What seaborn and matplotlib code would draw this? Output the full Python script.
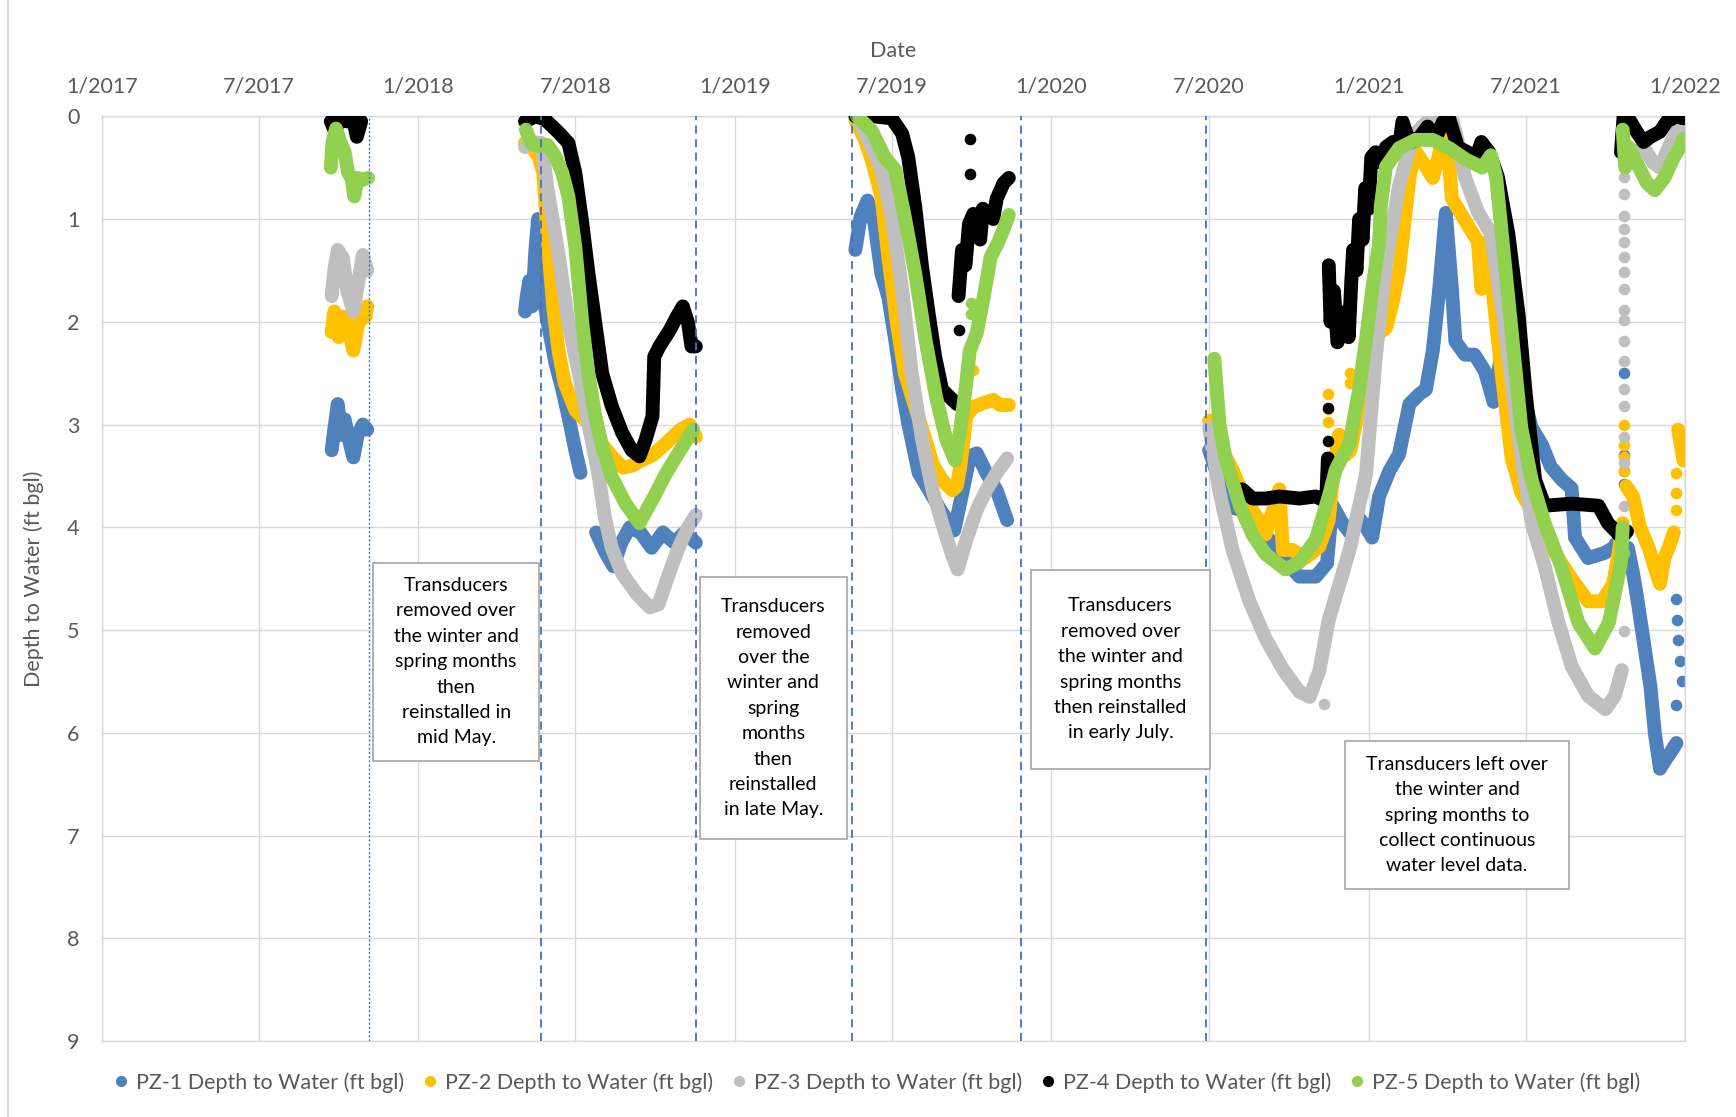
import pandas as pd
import matplotlib
matplotlib.use("Agg")
import matplotlib.pyplot as plt
from matplotlib.patches import Rectangle
from matplotlib.lines import Line2D
import seaborn as sns

# ---- data (date, depth to water in ft bgl) ----
PZ1_2017 = [("2017-09-23", 3.25), ("2017-09-26", 3.05), ("2017-09-30", 2.8), ("2017-10-04", 3.1),
            ("2017-10-08", 2.95), ("2017-10-13", 3.15), ("2017-10-18", 3.32), ("2017-10-23", 3.1),
            ("2017-10-29", 3.0), ("2017-11-03", 3.05)]
PZ1_2018A = [("2018-05-04", 1.9), ("2018-05-06", 1.75), ("2018-05-09", 1.6), ("2018-05-12", 1.85),
             ("2018-05-16", 1.3), ("2018-05-19", 1.0), ("2018-05-21", 1.4), ("2018-05-24", 1.7),
             ("2018-05-30", 2.0), ("2018-06-08", 2.4), ("2018-06-16", 2.66), ("2018-06-23", 2.92),
             ("2018-07-01", 3.25), ("2018-07-07", 3.47)]
PZ1_2018B = [("2018-07-25", 4.05), ("2018-08-05", 4.25), ("2018-08-14", 4.38), ("2018-08-23", 4.15),
             ("2018-09-02", 4.0), ("2018-09-14", 4.05), ("2018-09-27", 4.2), ("2018-10-10", 4.05),
             ("2018-10-23", 4.15), ("2018-11-04", 4.05), ("2018-11-17", 4.15)]
PZ1_2019 = [("2019-05-20", 1.3), ("2019-05-26", 0.98), ("2019-06-03", 0.82), ("2019-06-11", 1.04),
            ("2019-06-19", 1.53), ("2019-06-27", 1.76), ("2019-07-05", 2.18), ("2019-07-13", 2.66),
            ("2019-07-20", 2.99), ("2019-08-01", 3.47), ("2019-08-13", 3.64), ("2019-08-24", 3.8),
            ("2019-09-05", 3.96), ("2019-09-11", 4.03), ("2019-09-21", 3.64), ("2019-09-29", 3.31),
            ("2019-10-07", 3.28), ("2019-10-18", 3.47), ("2019-10-30", 3.64), ("2019-11-11", 3.93)]
PZ1_2020 = [("2020-07-01", 3.25), ("2020-07-13", 3.55), ("2020-07-28", 3.81), ("2020-08-16", 3.85),
            ("2020-09-04", 4.07), ("2020-09-24", 4.3), ("2020-10-13", 4.48), ("2020-11-01", 4.48),
            ("2020-11-14", 4.35), ("2020-11-20", 3.78), ("2020-12-01", 3.95), ("2020-12-10", 4.05),
            ("2020-12-20", 3.9), ("2020-12-29", 4.0), ("2021-01-05", 4.1), ("2021-01-13", 3.7),
            ("2021-01-25", 3.45), ("2021-02-05", 3.29), ("2021-02-17", 2.8), ("2021-03-01", 2.7),
            ("2021-03-08", 2.66), ("2021-03-16", 2.28), ("2021-03-23", 1.72), ("2021-03-31", 0.94),
            ("2021-04-07", 1.68), ("2021-04-11", 2.19), ("2021-04-22", 2.32), ("2021-05-03", 2.32),
            ("2021-05-15", 2.48), ("2021-05-25", 2.78), ("2021-06-05", 2.2), ("2021-06-15", 1.5),
            ("2021-06-22", 1.9), ("2021-07-01", 2.8), ("2021-07-08", 3.03), ("2021-07-20", 3.2),
            ("2021-07-30", 3.41), ("2021-08-12", 3.54), ("2021-08-23", 3.62), ("2021-08-27", 4.1),
            ("2021-09-11", 4.3), ("2021-09-30", 4.25), ("2021-10-10", 4.2), ("2021-10-18", 4.1)]
PZ1_2021 = [("2021-10-27", 4.2), ("2021-11-02", 4.45), ("2021-11-06", 4.65), ("2021-11-14", 5.1),
            ("2021-11-22", 5.55), ("2021-11-27", 6.0), ("2021-12-03", 6.35), ("2021-12-08", 6.28),
            ("2021-12-13", 6.22), ("2021-12-22", 6.1)]
PZ1_DOTS = [("2021-10-23", 2.5), ("2021-10-23", 3.3), ("2021-10-23", 3.45), ("2021-10-23", 3.58),
            ("2021-12-22", 4.7), ("2021-12-23", 4.9), ("2021-12-24", 5.1), ("2021-12-26", 5.3),
            ("2021-12-28", 5.5), ("2021-12-22", 5.73)]

PZ2_2017 = [("2017-09-23", 2.1), ("2017-09-26", 1.9), ("2017-10-01", 2.15), ("2017-10-06", 1.95),
            ("2017-10-12", 2.05), ("2017-10-18", 2.28), ("2017-10-24", 2.0), ("2017-11-01", 1.95),
            ("2017-11-03", 1.85)]
PZ2_2018 = [("2018-05-04", 0.26), ("2018-05-12", 0.3), ("2018-05-20", 0.4), ("2018-05-25", 0.55),
            ("2018-06-01", 1.4), ("2018-06-06", 1.9), ("2018-06-12", 2.3), ("2018-06-19", 2.6),
            ("2018-07-01", 2.86), ("2018-07-16", 2.99), ("2018-07-28", 3.15), ("2018-08-12", 3.31),
            ("2018-08-25", 3.42), ("2018-09-05", 3.4), ("2018-09-15", 3.35), ("2018-09-28", 3.3),
            ("2018-10-14", 3.18), ("2018-10-30", 3.05), ("2018-11-10", 3.0), ("2018-11-17", 3.12)]
PZ2_2019 = [("2019-05-20", 0.04), ("2019-05-31", 0.23), ("2019-06-08", 0.43), ("2019-06-19", 0.78),
            ("2019-06-27", 1.37), ("2019-07-07", 2.02), ("2019-07-16", 2.5), ("2019-07-28", 2.83),
            ("2019-08-09", 3.15), ("2019-08-17", 3.38), ("2019-08-28", 3.54), ("2019-09-09", 3.64),
            ("2019-09-14", 3.6), ("2019-09-18", 3.41), ("2019-09-25", 2.92), ("2019-10-03", 2.83),
            ("2019-10-15", 2.79), ("2019-10-26", 2.76), ("2019-11-03", 2.81), ("2019-11-13", 2.81)]
PZ2_2020 = [("2020-07-01", 2.96), ("2020-07-13", 3.2), ("2020-07-28", 3.44), ("2020-08-05", 3.6),
            ("2020-08-16", 3.78), ("2020-08-30", 3.97), ("2020-09-04", 4.07), ("2020-09-12", 3.85),
            ("2020-09-20", 3.63), ("2020-09-24", 4.22), ("2020-10-05", 4.22), ("2020-10-20", 4.3),
            ("2020-11-05", 4.19), ("2020-11-16", 3.93), ("2020-11-22", 3.4), ("2020-11-28", 3.1),
            ("2020-12-05", 3.3), ("2020-12-11", 3.25), ("2020-12-17", 3.0), ("2020-12-21", 2.84),
            ("2020-12-29", 2.43), ("2021-01-05", 2.17), ("2021-01-21", 2.06), ("2021-01-29", 1.8),
            ("2021-02-05", 1.5), ("2021-02-11", 1.05), ("2021-02-17", 0.6), ("2021-02-24", 0.34),
            ("2021-03-08", 0.49), ("2021-03-16", 0.6), ("2021-03-23", 0.38), ("2021-03-31", 0.04),
            ("2021-04-07", 0.8), ("2021-04-21", 1.0), ("2021-05-07", 1.22), ("2021-05-11", 1.68),
            ("2021-05-18", 1.22), ("2021-05-26", 1.85), ("2021-06-03", 2.48), ("2021-06-15", 3.33),
            ("2021-06-26", 3.66), ("2021-07-16", 3.96), ("2021-08-04", 4.25), ("2021-08-23", 4.5),
            ("2021-09-11", 4.72), ("2021-09-27", 4.72), ("2021-10-10", 4.55), ("2021-10-17", 4.21),
            ("2021-10-21", 3.96)]
PZ2_2021A = [("2021-10-25", 3.6), ("2021-11-02", 3.7), ("2021-11-10", 4.0), ("2021-11-20", 4.2),
             ("2021-11-29", 4.45), ("2021-12-03", 4.55), ("2021-12-08", 4.3), ("2021-12-13", 4.2),
             ("2021-12-19", 4.05)]
PZ2_2021B = [("2021-12-24", 3.05), ("2021-12-27", 3.2), ("2021-12-30", 3.35)]
PZ2_DOTS = [("2019-10-03", 2.47), ("2020-11-15", 2.7), ("2020-11-15", 2.85), ("2020-11-15", 2.98),
            ("2020-12-11", 2.5), ("2020-12-11", 2.6), ("2021-10-23", 3.0), ("2021-10-23", 3.2),
            ("2021-10-23", 3.32), ("2021-10-23", 3.45), ("2021-12-22", 3.47), ("2021-12-22", 3.67),
            ("2021-12-22", 3.83)]

PZ3_2017 = [("2017-09-23", 1.75), ("2017-09-26", 1.5), ("2017-09-30", 1.3), ("2017-10-06", 1.38),
            ("2017-10-11", 1.7), ("2017-10-18", 1.9), ("2017-10-24", 1.6), ("2017-10-29", 1.35),
            ("2017-11-03", 1.5)]
PZ3_2018 = [("2018-05-04", 0.3), ("2018-05-10", 0.25), ("2018-05-23", 0.26), ("2018-05-30", 0.71),
            ("2018-06-12", 1.36), ("2018-06-23", 2.01), ("2018-07-05", 2.5), ("2018-07-16", 2.99),
            ("2018-07-28", 3.5), ("2018-08-04", 3.9), ("2018-08-12", 4.2), ("2018-08-24", 4.45),
            ("2018-09-10", 4.65), ("2018-09-25", 4.78), ("2018-10-05", 4.75), ("2018-10-15", 4.5),
            ("2018-10-28", 4.2), ("2018-11-08", 4.0), ("2018-11-17", 3.88)]
PZ3_2019 = [("2019-05-22", 0.0), ("2019-06-06", 0.27), ("2019-06-19", 0.52), ("2019-07-01", 0.98),
            ("2019-07-13", 1.69), ("2019-07-24", 2.5), ("2019-08-05", 3.15), ("2019-08-17", 3.64),
            ("2019-08-28", 3.96), ("2019-09-09", 4.28), ("2019-09-15", 4.41), ("2019-09-25", 4.12),
            ("2019-10-07", 3.83), ("2019-10-18", 3.64), ("2019-10-30", 3.47), ("2019-11-11", 3.33)]
PZ3_2020 = [("2020-07-01", 3.03), ("2020-07-13", 3.66), ("2020-07-28", 4.22), ("2020-08-16", 4.71),
            ("2020-09-04", 5.08), ("2020-09-24", 5.38), ("2020-10-13", 5.6), ("2020-10-25", 5.65),
            ("2020-11-05", 5.4), ("2020-11-16", 4.9), ("2020-12-10", 4.22), ("2020-12-29", 3.48),
            ("2021-01-09", 2.36), ("2021-01-21", 1.43), ("2021-02-05", 0.68), ("2021-02-21", 0.19),
            ("2021-03-16", 0.0), ("2021-04-08", 0.05), ("2021-04-14", 0.25), ("2021-04-22", 0.59),
            ("2021-05-07", 0.93), ("2021-05-22", 1.14), ("2021-06-07", 2.06), ("2021-06-23", 3.12),
            ("2021-07-08", 3.96), ("2021-07-23", 4.38), ("2021-08-08", 4.93), ("2021-08-23", 5.35),
            ("2021-09-11", 5.64), ("2021-10-01", 5.77), ("2021-10-12", 5.64), ("2021-10-20", 5.39)]
PZ3_2021 = [("2021-10-24", 0.45), ("2021-11-02", 0.35), ("2021-11-14", 0.3), ("2021-11-25", 0.45),
            ("2021-12-03", 0.5), ("2021-12-13", 0.3), ("2021-12-22", 0.15), ("2021-12-30", 0.1)]
PZ3_DOT_DEPTHS = [0.59, 0.76, 0.97, 1.1, 1.22, 1.37, 1.52, 1.68, 1.89, 1.98, 2.19, 2.38,
                  2.65, 2.82, 3.12, 3.37, 3.79, 5.01]
PZ3_DOTS = [("2020-11-11", 5.72)] + [("2021-10-23", v) for v in PZ3_DOT_DEPTHS]

PZ4_2017 = [("2017-09-22", 0.05), ("2017-09-27", 0.15), ("2017-10-03", 0.0), ("2017-10-10", 0.05),
            ("2017-10-17", 0.0), ("2017-10-22", 0.2), ("2017-10-27", 0.05)]
PZ4_2018 = [("2018-05-04", 0.05), ("2018-05-16", 0.0), ("2018-05-27", 0.03), ("2018-06-12", 0.16),
            ("2018-06-23", 0.26), ("2018-07-01", 0.55), ("2018-07-09", 1.04), ("2018-07-16", 1.52),
            ("2018-07-24", 2.01), ("2018-08-01", 2.5), ("2018-08-12", 2.82), ("2018-08-24", 3.08),
            ("2018-09-04", 3.25), ("2018-09-13", 3.31), ("2018-09-20", 3.15), ("2018-09-28", 2.92),
            ("2018-09-30", 2.34), ("2018-10-06", 2.24), ("2018-10-18", 2.08), ("2018-10-26", 1.95),
            ("2018-11-02", 1.85), ("2018-11-08", 2.01), ("2018-11-12", 2.24), ("2018-11-17", 2.24)]
PZ4_2019A = [("2019-05-20", 0.0), ("2019-06-10", 0.0), ("2019-07-01", 0.02), ("2019-07-13", 0.17),
             ("2019-07-20", 0.4), ("2019-07-28", 0.88), ("2019-08-05", 1.47), ("2019-08-13", 1.95),
             ("2019-08-20", 2.34), ("2019-08-28", 2.66), ("2019-09-09", 2.76), ("2019-09-14", 2.8)]
PZ4_2019B = [("2019-09-16", 1.75), ("2019-09-20", 1.3), ("2019-09-24", 1.45), ("2019-09-28", 1.05),
             ("2019-10-03", 0.95), ("2019-10-07", 1.15), ("2019-10-11", 1.2), ("2019-10-14", 0.9),
             ("2019-10-20", 0.95), ("2019-10-26", 1.0), ("2019-10-30", 0.8), ("2019-11-07", 0.65),
             ("2019-11-13", 0.6)]
PZ4_2020A = [("2020-08-08", 3.63), ("2020-08-20", 3.72), ("2020-09-04", 3.72), ("2020-09-20", 3.7),
             ("2020-10-13", 3.72), ("2020-11-01", 3.7), ("2020-11-13", 3.75), ("2020-11-15", 3.33)]
PZ4_2020B = [("2020-11-16", 1.45), ("2020-11-18", 2.0), ("2020-11-22", 1.7), ("2020-11-26", 2.2),
             ("2020-12-02", 2.1), ("2020-12-06", 1.9), ("2020-12-09", 2.15), ("2020-12-12", 1.6),
             ("2020-12-14", 1.3), ("2020-12-18", 1.5), ("2020-12-21", 1.0), ("2020-12-25", 1.2),
             ("2020-12-28", 0.7), ("2021-01-01", 0.9), ("2021-01-04", 0.4), ("2021-01-09", 0.35),
             ("2021-01-15", 0.45), ("2021-01-21", 0.3), ("2021-01-29", 0.25), ("2021-02-05", 0.3),
             ("2021-02-09", 0.05), ("2021-02-15", 0.2), ("2021-02-20", 0.25), ("2021-03-01", 0.2),
             ("2021-03-10", 0.1), ("2021-03-20", 0.2), ("2021-03-28", 0.05), ("2021-04-03", 0.0),
             ("2021-04-14", 0.3), ("2021-04-25", 0.35), ("2021-05-05", 0.4), ("2021-05-11", 0.25),
             ("2021-05-20", 0.35), ("2021-05-30", 0.59), ("2021-06-11", 1.14), ("2021-06-23", 1.94),
             ("2021-07-01", 2.69), ("2021-07-12", 3.54), ("2021-07-23", 3.79), ("2021-08-23", 3.77),
             ("2021-09-23", 3.79), ("2021-10-04", 3.96), ("2021-10-20", 4.1), ("2021-10-26", 4.04)]
PZ4_2021 = [("2021-10-19", 0.35), ("2021-10-22", 0.0), ("2021-10-30", 0.05), ("2021-11-06", 0.15),
            ("2021-11-14", 0.25), ("2021-11-22", 0.2), ("2021-12-03", 0.15), ("2021-12-11", 0.05),
            ("2021-12-22", 0.0), ("2021-12-30", 0.02)]
PZ4_DOTS = [("2019-09-16", 2.08), ("2019-09-29", 0.56), ("2019-09-29", 0.22),
            ("2020-11-15", 3.16), ("2020-11-15", 2.84)]

PZ5_2017 = [("2017-09-22", 0.5), ("2017-09-24", 0.25), ("2017-09-28", 0.12), ("2017-10-03", 0.25),
            ("2017-10-08", 0.35), ("2017-10-12", 0.55), ("2017-10-16", 0.6), ("2017-10-19", 0.78),
            ("2017-10-23", 0.6), ("2017-10-28", 0.62), ("2017-11-04", 0.6)]
PZ5_2018 = [("2018-05-05", 0.13), ("2018-05-11", 0.26), ("2018-05-19", 0.29), ("2018-05-30", 0.28),
            ("2018-06-08", 0.39), ("2018-06-16", 0.55), ("2018-06-23", 0.78), ("2018-07-01", 1.27),
            ("2018-07-09", 2.01), ("2018-07-16", 2.5), ("2018-07-24", 2.92), ("2018-08-01", 3.21),
            ("2018-08-12", 3.51), ("2018-08-28", 3.77), ("2018-09-13", 3.96), ("2018-09-28", 3.73),
            ("2018-10-14", 3.47), ("2018-10-30", 3.25), ("2018-11-14", 3.05)]
PZ5_2019 = [("2019-05-22", 0.0), ("2019-06-08", 0.14), ("2019-06-23", 0.4), ("2019-07-05", 0.52),
            ("2019-07-16", 0.98), ("2019-07-28", 1.53), ("2019-08-09", 2.18), ("2019-08-21", 2.73),
            ("2019-09-02", 3.15), ("2019-09-12", 3.35), ("2019-09-18", 3.05), ("2019-09-24", 2.66),
            ("2019-09-29", 2.28), ("2019-10-07", 2.11), ("2019-10-15", 1.76), ("2019-10-23", 1.37),
            ("2019-10-31", 1.24), ("2019-11-07", 1.1), ("2019-11-13", 0.96)]
PZ5_2020 = [("2020-07-07", 2.36), ("2020-07-13", 3.0), ("2020-07-20", 3.33), ("2020-08-05", 3.78),
            ("2020-08-20", 4.07), ("2020-09-04", 4.26), ("2020-09-27", 4.41), ("2020-10-13", 4.34),
            ("2020-11-01", 4.12), ("2020-11-16", 3.7), ("2020-11-24", 3.44), ("2020-12-10", 3.18),
            ("2020-12-21", 2.66), ("2020-12-29", 2.17), ("2021-01-05", 1.69), ("2021-01-13", 1.24),
            ("2021-01-15", 0.87), ("2021-01-21", 0.49), ("2021-02-05", 0.31), ("2021-02-24", 0.23),
            ("2021-03-16", 0.23), ("2021-04-04", 0.31), ("2021-04-23", 0.42), ("2021-05-12", 0.5),
            ("2021-05-22", 0.38), ("2021-05-28", 0.59), ("2021-06-07", 1.43), ("2021-06-15", 2.1),
            ("2021-06-26", 3.03), ("2021-07-08", 3.54), ("2021-07-23", 3.96), ("2021-08-11", 4.38),
            ("2021-08-31", 4.93), ("2021-09-19", 5.18), ("2021-10-05", 4.93), ("2021-10-19", 4.34),
            ("2021-10-21", 4.0)]
PZ5_2021 = [("2021-10-21", 0.13), ("2021-10-24", 0.5), ("2021-10-28", 0.3), ("2021-11-06", 0.45),
            ("2021-11-18", 0.65), ("2021-11-27", 0.72), ("2021-12-08", 0.6), ("2021-12-19", 0.4),
            ("2021-12-26", 0.3), ("2021-12-30", 0.22)]
PZ5_DOTS = [("2019-09-30", 1.82), ("2019-09-30", 1.92), ("2021-10-22", 4.25)]

SERIES_NAMES = ["PZ-1 Depth to Water (ft bgl)", "PZ-2 Depth to Water (ft bgl)",
                "PZ-3 Depth to Water (ft bgl)", "PZ-4 Depth to Water (ft bgl)",
                "PZ-5 Depth to Water (ft bgl)"]
COLORS = ["#4F81BD", "#FFC000", "#BFBFBF", "#000000", "#92D050"]
SEGMENTS = [
    [PZ1_2017, PZ1_2018A, PZ1_2018B, PZ1_2019, PZ1_2020, PZ1_2021],
    [PZ2_2017, PZ2_2018, PZ2_2019, PZ2_2020, PZ2_2021A, PZ2_2021B],
    [PZ3_2017, PZ3_2018, PZ3_2019, PZ3_2020, PZ3_2021],
    [PZ4_2017, PZ4_2018, PZ4_2019A, PZ4_2019B, PZ4_2020A, PZ4_2020B, PZ4_2021],
    [PZ5_2017, PZ5_2018, PZ5_2019, PZ5_2020, PZ5_2021],
]
DOTS = [PZ1_DOTS, PZ2_DOTS, PZ3_DOTS, PZ4_DOTS, PZ5_DOTS]

TICK_DATES = ["2017-01-01", "2017-07-01", "2018-01-01", "2018-07-01", "2019-01-01", "2019-07-01",
              "2020-01-01", "2020-07-01", "2021-01-01", "2021-07-01", "2022-01-01"]
TICK_LABELS = ["1/2017", "7/2017", "1/2018", "7/2018", "1/2019", "7/2019",
               "1/2020", "7/2020", "1/2021", "7/2021", "1/2022"]

# transducer removal / reinstall markers
DOTTED_LINE = "2017-11-05"
DASHED_LINES = ["2018-05-23", "2018-11-17", "2019-05-16", "2019-11-27", "2020-06-27"]

NOTES = [
    "Transducers\nremoved over\nthe winter and\nspring months\nthen\nreinstalled in\nmid May.",
    "Transducers\nremoved\nover the\nwinter and\nspring\nmonths\nthen\nreinstalled\nin late May.",
    "Transducers\nremoved over\nthe winter and\nspring months\nthen reinstalled\nin early July.",
    "Transducers left over\nthe winter and\nspring months to\ncollect continuous\nwater level data.",
]
# note boxes in axes fraction: (x0, y0, x1, y1)
NOTE_BOXES = [(0.1713, 0.3030, 0.2762, 0.5174),
              (0.3776, 0.2180, 0.4706, 0.5018),
              (0.5867, 0.2946, 0.7000, 0.5090),
              (0.7853, 0.1641, 0.9266, 0.3246)]


def to_frame(segments):
    rows = []
    for i, seg in enumerate(segments):
        for d, v in seg:
            rows.append((pd.Timestamp(d), v, i))
    return pd.DataFrame(rows, columns=["date", "depth", "seg"])


sns.set_style("white")
plt.rcParams["font.family"] = ["Lato", "DejaVu Sans"]

TXT = "#595959"
GRID = "#D9D9D9"
BLUE = "#4472C4"

fig = plt.figure(figsize=(17.36, 11.17), dpi=100)
ax = fig.add_axes([0.0587, 0.0680, 0.9120, 0.8279])

for k in range(5):
    df = to_frame(SEGMENTS[k])
    sns.lineplot(data=df, x="date", y="depth", units="seg", estimator=None, sort=False,
                 color=COLORS[k], linewidth=10, solid_capstyle="round", solid_joinstyle="round",
                 ax=ax, legend=False, zorder=2 + k)
    dots = to_frame([DOTS[k]])
    sns.scatterplot(data=dots, x="date", y="depth", color=COLORS[k], s=70, linewidth=0,
                    ax=ax, legend=False, zorder=2 + k)

ax.axvline(pd.Timestamp(DOTTED_LINE), color=BLUE, lw=1.0, ls=(0, (1.5, 1.5)), zorder=10)
for d in DASHED_LINES:
    ax.axvline(pd.Timestamp(d), color=BLUE, lw=1.3, ls=(0, (4.5, 3)), zorder=10)

for (x0, y0, x1, y1), note in zip(NOTE_BOXES, NOTES):
    ax.add_patch(Rectangle((x0, y0), x1 - x0, y1 - y0, transform=ax.transAxes,
                           facecolor="white", edgecolor="#A6A6A6", lw=1.2, zorder=11))
    ax.text((x0 + x1) / 2, (y0 + y1) / 2, note, transform=ax.transAxes, ha="center",
            va="center", fontsize=14, linespacing=1.6, color="black", zorder=12)

ax.set_xlim(pd.Timestamp("2017-01-01"), pd.Timestamp("2022-01-01"))
ax.set_ylim(9, 0)
ax.set_xticks(pd.to_datetime(TICK_DATES))
ax.set_xticklabels(TICK_LABELS)
ax.set_yticks(range(10))
ax.xaxis.tick_top()
ax.xaxis.set_label_position("top")
ax.tick_params(axis="x", length=0, pad=14, labelsize=15.5, colors=TXT)
ax.tick_params(axis="y", length=0, pad=16, labelsize=15.5, colors=TXT)
ax.grid(True, color=GRID, lw=1.0)
ax.set_axisbelow(True)
for sp in ax.spines.values():
    sp.set_color(GRID)
    sp.set_linewidth(1.0)

ax.set_xlabel("Date", fontsize=15.5, color=TXT, labelpad=14)
ax.set_ylabel("Depth to Water (ft bgl)", fontsize=15.5, color=TXT, labelpad=17)

handles = [Line2D([], [], marker="o", ls="", color=c, markersize=7) for c in COLORS]
fig.legend(handles, SERIES_NAMES, loc="center", bbox_to_anchor=(0.505, 0.031), ncol=5,
           frameon=False, fontsize=15.5, handlelength=0.7, handletextpad=0.35,
           columnspacing=0.85, labelcolor=TXT, borderaxespad=0)

fig.add_artist(Line2D([0.0046, 0.0046], [0, 1], transform=fig.transFigure, color=GRID, lw=1.5))

fig.savefig("out.png", dpi=100)
